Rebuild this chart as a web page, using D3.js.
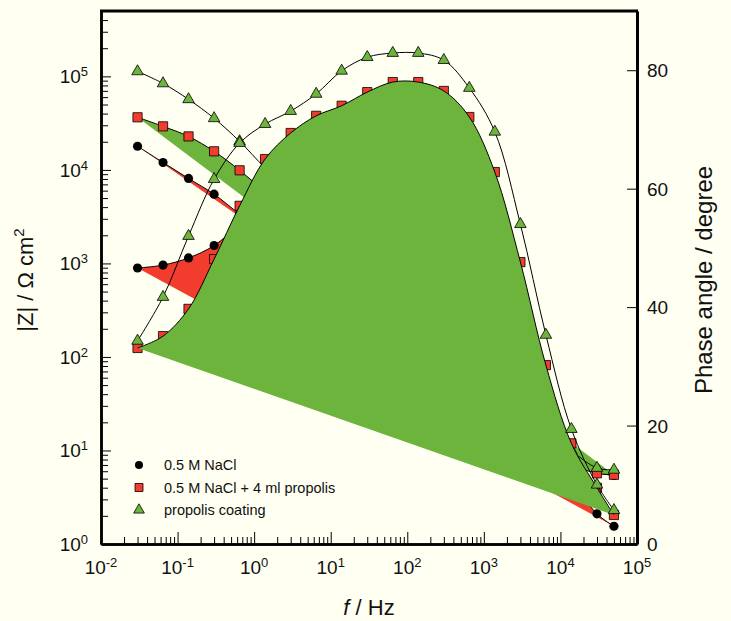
<!DOCTYPE html>
<html>
<head>
<meta charset="utf-8">
<script src="https://cdn.jsdelivr.net/npm/d3@7"></script>
<style>
body { margin: 0; background: #fffff2; }
text { font-family: "Liberation Sans", Arial, sans-serif; fill: #111; }
</style>
</head>
<body>
<script>
// frequencies of the measurement points (Hz)
var freq = [0.03, 0.0646, 0.139, 0.3, 0.646, 1.39, 3, 6.46, 13.9, 30, 64.6, 139, 300, 646, 1390, 3000, 6460, 13900, 30000, 50000];

// |Z| in ohm cm2
var naclZ = [17900, 12000, 8100, 5500, 3400, 2400, 1600, 1080, 700, 450, 280, 170, 100, 58, 32, 18, 11, 7.4, 5.8, 5.4];
var propolisZ = [36500, 29200, 22800, 15800, 9900, 5800, 3300, 1900, 1050, 560, 300, 160, 85, 46, 26, 15, 9.5, 7.0, 5.7, 5.5];
var coatingZ = [113000, 84000, 56800, 35600, 20200, 10500, 6000, 3400, 1900, 1050, 580, 320, 175, 98, 54, 31, 18, 10, 6.5, 6.2];

// phase angle in degree
var naclPhase = [46.6, 47.1, 48.3, 50.4, 54, 58, 62, 65, 67, 68, 68, 66, 62, 55, 45, 33, 21, 11, 5.1, 3.0];
var propolisPhase = [33.1, 35.1, 39.7, 48.1, 57.1, 65, 69.4, 72.3, 74, 76.3, 78, 78, 76.5, 72.1, 62.8, 47.6, 30.2, 17, 9.5, 4.9];
var coatingPhase = [34.3, 41.7, 52, 61.6, 67.7, 70.9, 73.1, 76, 79.9, 82.2, 82.9, 82.9, 81.7, 77, 69.6, 54, 35.3, 19.4, 10, 5.7];

var legendLabels = ["0.5 M NaCl", "0.5 M NaCl + 4 ml propolis", "propolis coating"];

// tick values
var freqTicks = [0.01, 0.1, 1, 10, 100, 1000, 10000, 100000];
var freqExp = ["-2", "-1", "0", "1", "2", "3", "4", "5"];
var zTicks = [1, 10, 100, 1000, 10000, 100000];
var zExp = ["0", "1", "2", "3", "4", "5"];
var phaseTicks = [0, 20, 40, 60, 80];

var width = 731;
var height = 621;
var plotLeft = 101, plotRight = 637, plotTop = 11, plotBottom = 544;

var red = "#f23c2d";
var green = "#6cb43c";

var svg = d3.select("body").append("svg")
    .attr("width", width)
    .attr("height", height)
    .style("background", "#fffff2");

var x = d3.scaleLog().domain([0.01, 100000]).range([plotLeft, plotRight]);
var yZ = d3.scaleLog().domain([1, 500000]).range([plotBottom, plotTop]);
var yP = d3.scaleLinear().domain([0, 90]).range([plotBottom, plotTop]);

// minor tick values for the log axes
function minorTicks(lo, hi) {
    var out = [];
    for (var e = lo; e < hi; e++) {
        for (var m = 2; m <= 9; m++) {
            out.push(m * Math.pow(10, e));
        }
    }
    return out;
}
var freqMinor = minorTicks(-2, 5);
var zMinor = minorTicks(0, 5).concat([200000, 300000, 400000]);

function drawMarkers(pts, symbolType, symbolSize, markerFill) {
    svg.append("g").selectAll("path")
        .data(pts)
        .enter()
        .append("path")
        .attr("transform", function(d) { return "translate(" + d[0] + "," + d[1] + ")"; })
        .attr("d", d3.symbol().type(symbolType).size(symbolSize))
        .attr("fill", markerFill)
        .attr("stroke", "#000")
        .attr("stroke-width", markerFill === "#000" ? 0 : 0.8);
}

// one series: filled outline (closed straight back to the first point), line, markers
function drawSeries(values, yScale, fillColor, symbolType, symbolSize, markerFill, markersFirst) {
    var pts = freq.map(function(f, i) { return [x(f), yScale(values[i])]; });
    var line = d3.line().curve(d3.curveCatmullRom.alpha(0.5));

    if (markersFirst) drawMarkers(pts, symbolType, symbolSize, markerFill);
    if (fillColor) {
        svg.append("path")
            .attr("d", line(pts) + "Z")
            .attr("fill", fillColor)
            .attr("stroke", "none");
    }
    svg.append("path")
        .attr("d", line(pts))
        .attr("fill", "none")
        .attr("stroke", "#000")
        .attr("stroke-width", 1);
    if (!markersFirst) drawMarkers(pts, symbolType, symbolSize, markerFill);
}

// impedance modulus series
drawSeries(naclZ, yZ, red, d3.symbolCircle, 66, "#000", false);
drawSeries(propolisZ, yZ, green, d3.symbolSquare, 85, red, false);
drawSeries(coatingZ, yZ, null, d3.symbolTriangle, 58, green, false);

// phase series
drawSeries(naclPhase, yP, red, d3.symbolCircle, 66, "#000", false);
drawSeries(propolisPhase, yP, green, d3.symbolSquare, 85, red, true);
drawSeries(coatingPhase, yP, null, d3.symbolTriangle, 58, green, false);

// axes
function styleAxis(g, w) {
    g.select(".domain").attr("stroke", "#000").attr("stroke-width", w);
    g.selectAll(".tick line").attr("stroke", "#000").attr("stroke-width", 1);
    g.selectAll(".tick text").remove();
}

var gx1 = svg.append("g").attr("transform", "translate(0," + plotBottom + ")")
    .call(d3.axisBottom(x).tickValues(freqMinor).tickSize(-7).tickSizeOuter(0).tickFormat(""));
styleAxis(gx1, 2.5);
var gx2 = svg.append("g").attr("transform", "translate(0," + plotBottom + ")")
    .call(d3.axisBottom(x).tickValues(freqTicks).tickSize(-12).tickSizeOuter(0).tickFormat(""));
styleAxis(gx2, 2.5);

var gy1 = svg.append("g").attr("transform", "translate(" + plotLeft + ",0)")
    .call(d3.axisLeft(yZ).tickValues(zMinor).tickSize(-7).tickSizeOuter(0).tickFormat(""));
styleAxis(gy1, 2.5);
var gy2 = svg.append("g").attr("transform", "translate(" + plotLeft + ",0)")
    .call(d3.axisLeft(yZ).tickValues(zTicks).tickSize(-10).tickSizeOuter(0).tickFormat(""));
styleAxis(gy2, 2.5);

var gr = svg.append("g").attr("transform", "translate(" + plotRight + ",0)")
    .call(d3.axisRight(yP).tickValues(phaseTicks).tickSize(-10).tickSizeOuter(0).tickFormat(""));
styleAxis(gr, 3);

// top frame line
svg.append("line")
    .attr("x1", plotLeft - 1).attr("x2", plotRight + 1)
    .attr("y1", plotTop).attr("y2", plotTop)
    .attr("stroke", "#000").attr("stroke-width", 3);

// tick labels with exponents
function powerLabel(px, py, exp, anchor) {
    var t = svg.append("text")
        .attr("x", px).attr("y", py)
        .attr("text-anchor", anchor)
        .style("font-size", "19px");
    t.append("tspan").text("10");
    t.append("tspan").attr("dy", -7).style("font-size", "13px").text(exp);
}

freqTicks.forEach(function(v, i) {
    powerLabel(x(v), 574, freqExp[i], "middle");
});
zTicks.forEach(function(v, i) {
    powerLabel(88, yZ(v) + 7, zExp[i], "end");
});
phaseTicks.forEach(function(v) {
    svg.append("text")
        .attr("x", 647).attr("y", yP(v) + 7)
        .style("font-size", "19px")
        .text(v);
});

// axis titles
var yt = svg.append("text")
    .attr("transform", "translate(33,280) rotate(-90)")
    .attr("text-anchor", "middle")
    .style("font-size", "22px");
yt.append("tspan").text("|Z| / \u03a9 cm");
yt.append("tspan").attr("dy", -9).style("font-size", "15px").text("2");

svg.append("text")
    .attr("transform", "translate(712,280) rotate(-90)")
    .attr("text-anchor", "middle")
    .style("font-size", "24px")
    .text("Phase angle / degree");

var xt = svg.append("text")
    .attr("x", 369).attr("y", 615)
    .attr("text-anchor", "middle")
    .style("font-size", "22px");
xt.append("tspan").style("font-style", "italic").text("f");
xt.append("tspan").text(" / Hz");

// legend
var legendSymbols = [d3.symbolCircle, d3.symbolSquare, d3.symbolTriangle];
var legendFills = ["#000", red, green];
var legendSizes = [50, 64, 50];
legendLabels.forEach(function(label, i) {
    var ly = 465 + i * 22.5;
    svg.append("path")
        .attr("transform", "translate(139," + ly + ")")
        .attr("d", d3.symbol().type(legendSymbols[i]).size(legendSizes[i]))
        .attr("fill", legendFills[i])
        .attr("stroke", "#000")
        .attr("stroke-width", i === 0 ? 0 : 0.8);
    svg.append("text")
        .attr("x", 164).attr("y", ly + 5)
        .style("font-size", "14.5px")
        .text(label);
});
</script>
</body>
</html>
